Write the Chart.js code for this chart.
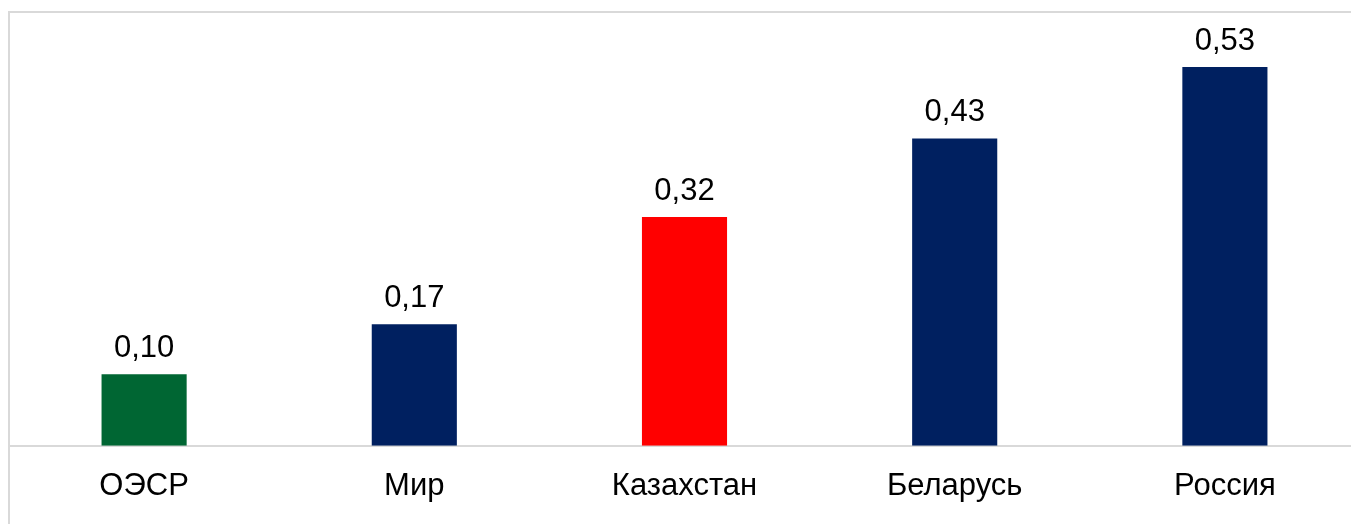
<!DOCTYPE html>
<html>
<head>
<meta charset="utf-8">
<script src="https://cdn.jsdelivr.net/npm/chart.js@4/dist/chart.umd.min.js"></script>
<style>
  html, body { margin: 0; padding: 0; background: #fff; width: 1351px; height: 524px; overflow: hidden; }
  #frame { position: absolute; left: 8px; top: 11px; width: 1400px; height: 600px;
           border-top: 2px solid #d9d9d9; border-left: 2px solid #d9d9d9; box-sizing: border-box; }
  #wrap { position: absolute; left: 9px; top: 0; width: 1351px; height: 527px; }
</style>
</head>
<body>
<div id="frame"></div>
<div id="wrap"><canvas id="c" width="1351" height="527"></canvas></div>
<script>
const categories = ['ОЭСР', 'Мир', 'Казахстан', 'Беларусь', 'Россия'];
const values = [0.10, 0.17, 0.32, 0.43, 0.53];
const barColors = ['#006633', '#002060', '#FF0000', '#002060', '#002060'];

const FONT = 'Liberation Sans, Arial, sans-serif';

const valueLabels = {
  id: 'valueLabels',
  afterDatasetsDraw(chart) {
    const ctx = chart.ctx;
    const meta = chart.getDatasetMeta(0);
    ctx.save();
    ctx.font = '31px ' + FONT;
    ctx.fillStyle = '#000';
    ctx.textAlign = 'center';
    ctx.textBaseline = 'alphabetic';
    meta.data.forEach((el, i) => {
      const txt = values[i].toFixed(2).replace('.', ',');
      ctx.fillText(txt, el.x, el.y - 17);
    });
    ctx.restore();
  }
};

new Chart(document.getElementById('c'), {
  type: 'bar',
  data: {
    labels: categories,
    datasets: [{
      data: values,
      backgroundColor: barColors,
      borderWidth: 0,
      barPercentage: 0.63,
      categoryPercentage: 0.5
    }]
  },
  options: {
    responsive: false,
    animation: false,
    events: [],
    layout: { padding: { top: 17, left: 0, right: 0, bottom: 0 } },
    plugins: { legend: { display: false }, tooltip: { enabled: false } },
    scales: {
      x: {
        grid: { display: false, drawTicks: false },
        border: { display: true, color: '#d9d9d9', width: 2 },
        ticks: { color: '#000', font: { size: 31, family: FONT }, padding: 22, maxRotation: 0 }
      },
      y: {
        display: false,
        min: 0,
        max: 0.6
      }
    }
  },
  plugins: [valueLabels]
});
</script>
</body>
</html>
